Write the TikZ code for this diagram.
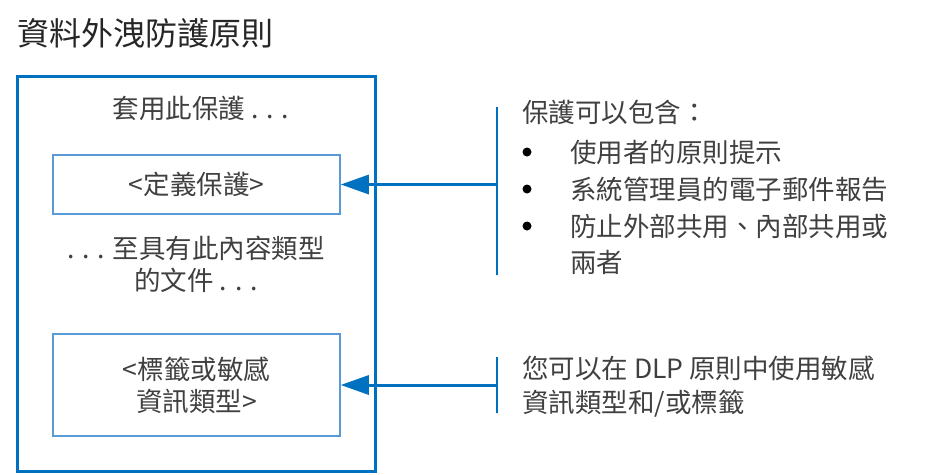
\documentclass[tikz,border=0pt]{standalone}
\usepackage{fontspec}
\setmainfont{Noto Sans CJK TC}
\usetikzlibrary{arrows.meta, positioning}
\definecolor{dlpblue}{RGB}{0,112,192}
\definecolor{boxblue}{RGB}{91,155,213}
\definecolor{textgray}{RGB}{64,64,64}
\begin{document}
\begin{tikzpicture}[x=1pt, y=-1pt, >={Triangle[length=28pt, width=19pt]},
    outer/.style={draw=dlpblue, line width=2.5pt, minimum width=358pt, minimum height=395pt},
    block/.style={draw=boxblue, line width=1.5pt, minimum width=287pt, align=center, font=\fontsize{26.5}{32}\selectfont, text=textgray},
    label/.style={align=center, font=\fontsize{26.5}{32}\selectfont, text=textgray},
    note/.style={align=left, anchor=west, inner sep=0pt, font=\fontsize{26.5}{36}\selectfont, text=textgray},
    bar/.style={draw=dlpblue, line width=2.5pt, minimum width=0pt, inner sep=0pt},
    dot/.style={circle, fill=black, inner sep=0pt, minimum size=9pt}]
    \useasboundingbox (0,0) rectangle (937,474);
    \node[anchor=west, inner sep=0pt, font=\fontsize{32}{36}\selectfont, text=black!85] (title) at (17,33) {資料外洩防護原則};

    % policy box
    \node[outer] (policy) at (196.5,274) {};
    \node[label] (apply) at (201,108) {套用此保護 . . .};
    \node[block, minimum height=59pt] (protect) at (196.5,184.5) {<定義保護>};
    \node[label] (content) at (196,264) {. . . 至具有此內容類型\\的文件 . . .};
    \node[block, minimum height=102pt] (labels) at (196.5,385) {<標籤或敏感\\資訊類型>};

    % notes on the right
    \node[bar, minimum height=168pt] (rule1) at (497,191) {};
    \node[bar, minimum height=56pt] (rule2) at (497,385) {};
    \node[note] (include) at (522,112) {保護可以包含：};
    \node[dot] (dot1) at (527,152) {};
    \node[note] (tips) at (570,152) {使用者的原則提示};
    \node[dot] (dot2) at (527,189) {};
    \node[note] (mail) at (570,189) {系統管理員的電子郵件報告};
    \node[dot] (dot3) at (527,226) {};
    \node[note] (share) at (570,244) {防止外部共用、內部共用或\\兩者};
    \node[note, font=\fontsize{26.5}{34}\selectfont] (usage) at (522,387) {您可以在 DLP 原則中使用敏感\\資訊類型和/或標籤};

    \draw[->, dlpblue, line width=3pt] (rule1.center |- protect.east) -- (protect.east);
    \draw[->, dlpblue, line width=3pt] (rule2.center |- labels.east) -- (labels.east);
\end{tikzpicture}
\end{document}
